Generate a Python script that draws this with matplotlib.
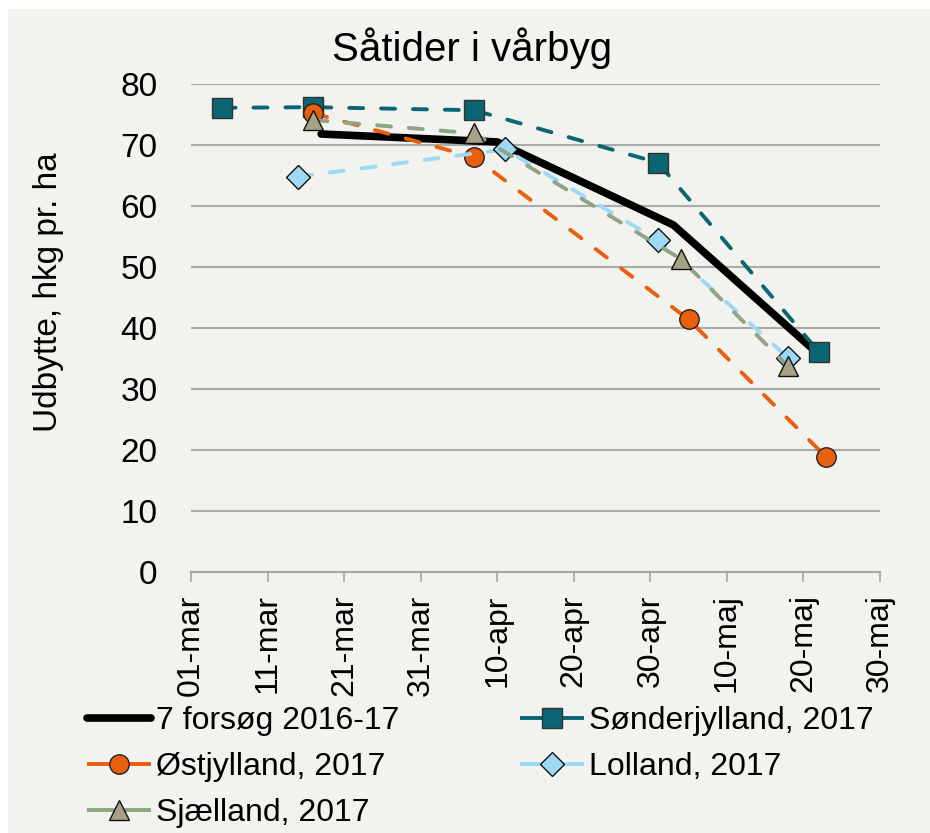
import matplotlib
matplotlib.use("Agg")
import matplotlib.pyplot as plt
import numpy as np
from matplotlib.patches import Rectangle
from matplotlib.lines import Line2D

plt.rcParams['font.family'] = ['Liberation Sans', 'DejaVu Sans']

# Data
tick_dates = np.arange('2017-03-01', '2017-05-31', 10, dtype='datetime64[D]')
tick_labels = ['01-mar', '11-mar', '21-mar', '31-mar', '10-apr',
               '20-apr', '30-apr', '10-maj', '20-maj', '30-maj']

forsoeg_dates = np.array(['2017-03-18', '2017-04-10', '2017-05-03', '2017-05-21'], dtype='datetime64[D]')
forsoeg_vals = [71.8, 70.5, 56.9, 36.8]

sonder_dates = np.array(['2017-03-05', '2017-03-17', '2017-04-07', '2017-05-01', '2017-05-22'], dtype='datetime64[D]')
sonder_vals = [76.1, 76.2, 75.7, 67.1, 36.1]

ost_dates = np.array(['2017-03-17', '2017-04-07', '2017-05-05', '2017-05-23'], dtype='datetime64[D]')
ost_vals = [75.2, 68.0, 41.4, 18.8]

lolland_dates = np.array(['2017-03-15', '2017-04-11', '2017-05-01', '2017-05-18'], dtype='datetime64[D]')
lolland_vals = [64.8, 69.3, 54.4, 35.1]

sjaelland_dates = np.array(['2017-03-17', '2017-04-07', '2017-05-04', '2017-05-18'], dtype='datetime64[D]')
sjaelland_vals = [74.1, 71.9, 51.3, 33.7]

bg = '#F2F2EE'
fig = plt.figure(figsize=(9.3, 8.33), dpi=100)
fig.patch.set_facecolor('white')
fig.patches.append(Rectangle((8 / 930, 0), 1, 1 - 9 / 833, transform=fig.transFigure,
                             facecolor=bg, edgecolor='none', zorder=-10))

ax = fig.add_axes([191 / 930, 1 - 572 / 833, (880 - 191) / 930, (572 - 84) / 833])
ax.set_facecolor(bg)

dash = (0, (3.6, 4.6))
lw_d = 2.8
h_black, = ax.plot(forsoeg_dates, forsoeg_vals, color='black', lw=5.5,
                   solid_capstyle='round', solid_joinstyle='round', zorder=3,
                   label='7 forsøg 2016-17')
h_son, = ax.plot(sonder_dates, sonder_vals, color='#0B6572', lw=lw_d, linestyle=dash,
                 dash_capstyle='round', marker='s', ms=14, mfc='#0B6572', mec='#333333',
                 mew=1.0, zorder=4, label='Sønderjylland, 2017')
h_ost, = ax.plot(ost_dates, ost_vals, color='#EA5F0E', lw=lw_d, linestyle=dash,
                 dash_capstyle='round', marker='o', ms=14, mfc='#EA5F0E', mec='#222222',
                 mew=1.0, zorder=5, label='Østjylland, 2017')
h_lol, = ax.plot(lolland_dates, lolland_vals, color='#9DD8F4', lw=lw_d, linestyle=dash,
                 dash_capstyle='round', marker='D', ms=12, mfc='#9DD8F4', mec='#111111',
                 mew=1.0, zorder=6, label='Lolland, 2017')
h_sja, = ax.plot(sjaelland_dates, sjaelland_vals, color='#8FA486', lw=lw_d, linestyle=dash,
                 dash_capstyle='round', marker='^', ms=15, mfc='#A6A285', mec='#111111',
                 mew=1.0, zorder=7, label='Sjælland, 2017')

ax.set_ylim(0, 80)
ax.set_yticks(np.arange(0, 81, 10))
ax.set_xlim(tick_dates[0], tick_dates[-1])
ax.set_xticks(tick_dates)
ax.set_xticklabels(tick_labels, rotation=90, fontsize=23)
ax.tick_params(axis='x', length=7, width=1.2, color='#A6A6A6', pad=9)
ax.tick_params(axis='y', length=0, pad=24, labelsize=24)
ax.grid(axis='y', color='#ABABAB', lw=1.5)
ax.set_axisbelow(True)
for s in ['left', 'right', 'top']:
    ax.spines[s].set_visible(False)
ax.spines['bottom'].set_color('#A6A6A6')
ax.spines['bottom'].set_linewidth(1.5)

fig.text(0.508, 1 - 48 / 833, 'Såtider i vårbyg', fontsize=29, ha='center', va='center')
fig.text(48 / 930, 1 - 292 / 833, 'Udbytte, hkg pr. ha', fontsize=24, rotation=90,
         ha='center', va='center')

# legend proxies: short solid segments either side of the marker, like Excel
def proxy(h):
    return Line2D([], [], color=h.get_color(), lw=h.get_linewidth(), linestyle='-',
                  solid_capstyle='butt', marker=h.get_marker(), ms=h.get_markersize(),
                  mfc=h.get_markerfacecolor(), mec=h.get_markeredgecolor(),
                  mew=h.get_markeredgewidth(), label=h.get_label())

handles = [h_black, proxy(h_ost), proxy(h_sja), proxy(h_son), proxy(h_lol)]
fig.legend(handles=handles, ncol=2, frameon=False,
           loc='upper left', bbox_to_anchor=(87 / 930, 1 - 706 / 833),
           fontsize=23, handlelength=2.0, handletextpad=0.15, columnspacing=3.8,
           labelspacing=0.5, borderpad=0, borderaxespad=0)

fig.savefig('out.png', dpi=100, facecolor=fig.get_facecolor())
